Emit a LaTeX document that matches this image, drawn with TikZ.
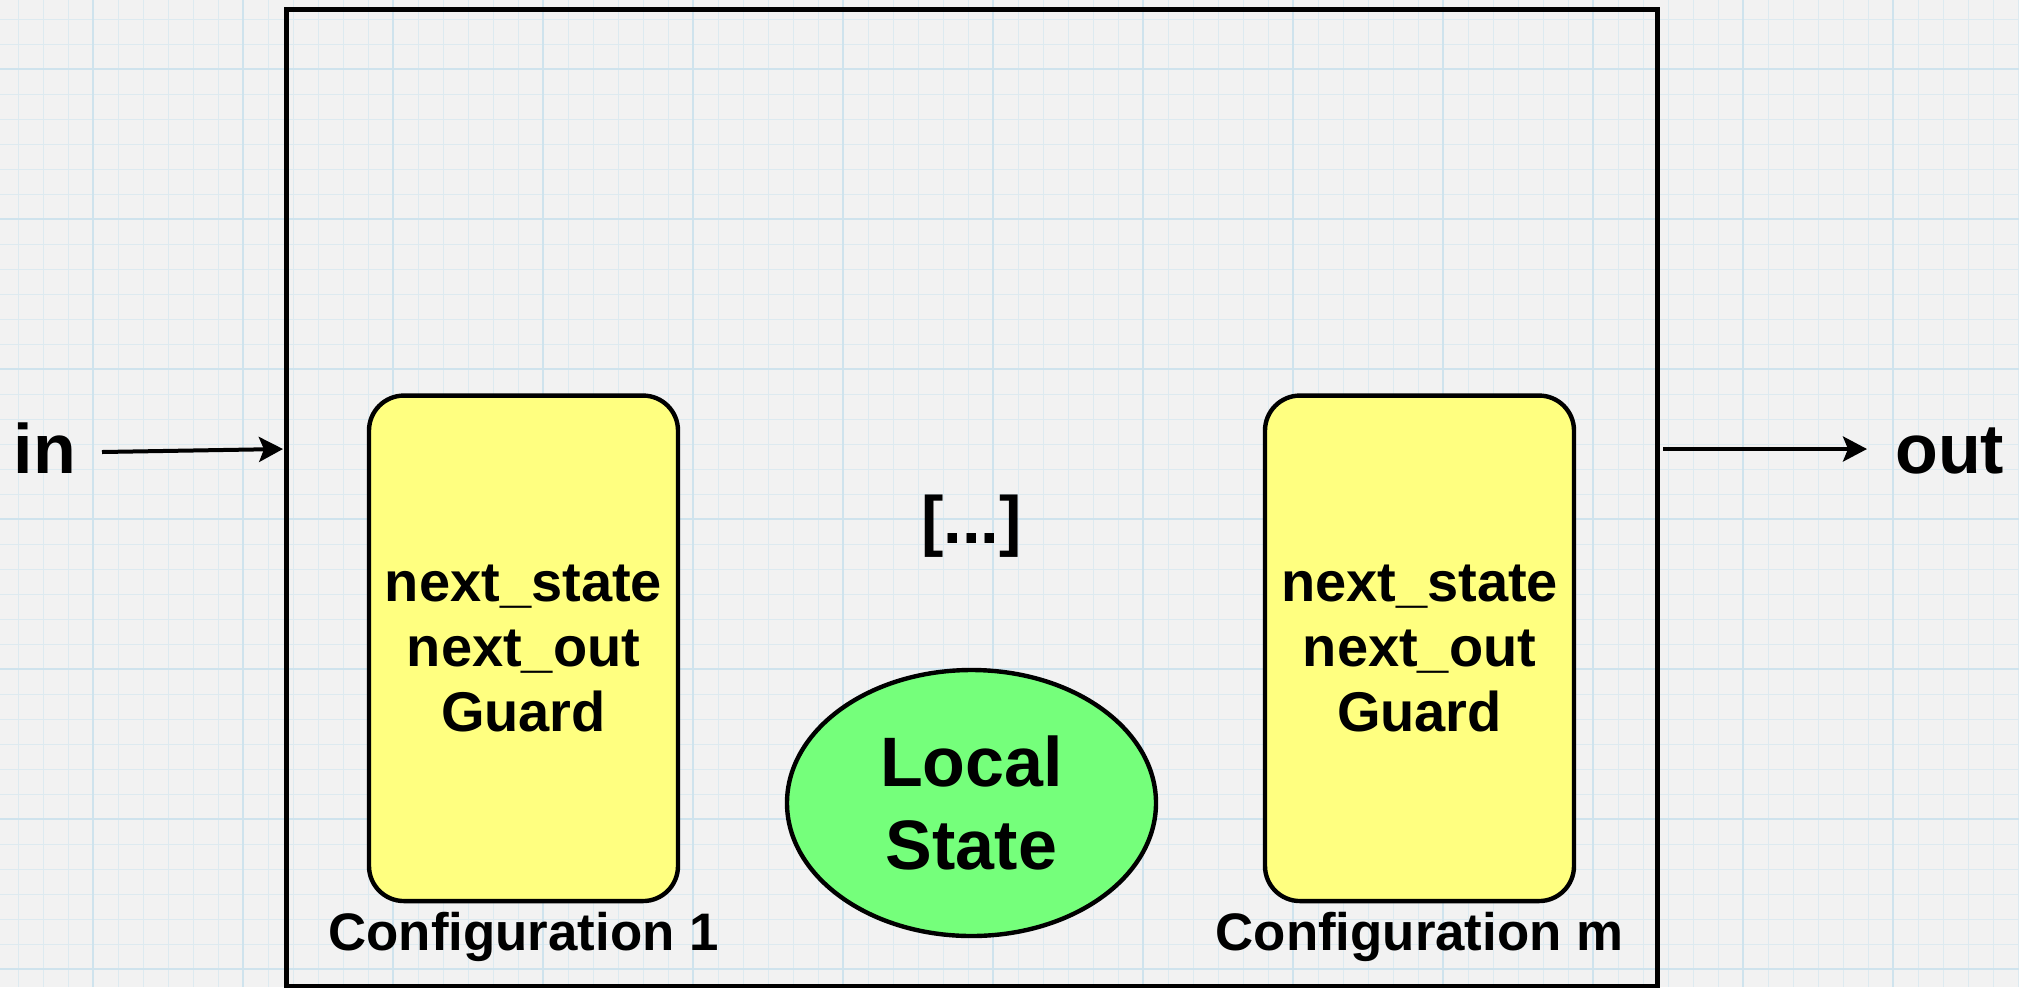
\documentclass[tikz,border=0pt]{standalone}
\usepackage{fontspec}
\setmainfont{Liberation Sans}
\usetikzlibrary{arrows.meta,shapes.geometric}
\definecolor{paper}{RGB}{242,242,242}
\definecolor{gridminor}{RGB}{221,234,240}
\definecolor{gridmajor}{RGB}{207,227,237}
\definecolor{cfgfill}{RGB}{255,255,128}
\definecolor{statefill}{RGB}{117,255,123}
\begin{document}
\begin{tikzpicture}[x=0.5pt,y=-0.5pt,
  frame/.style={draw=black,line width=2.5pt,minimum width=685.75pt,minimum height=488.75pt,inner sep=0pt},
  cfgbox/.style={draw=black,line width=2.2pt,fill=cfgfill,rounded corners=17.5pt,
    minimum width=154.5pt,minimum height=252.75pt,inner sep=0pt,align=center,
    font=\fontsize{28pt}{32.5pt}\selectfont\bfseries},
  statebox/.style={ellipse,draw=black,line width=2.2pt,fill=statefill,
    minimum width=184.5pt,minimum height=133pt,inner sep=0pt,align=center,
    font=\fontsize{35pt}{41.5pt}\selectfont\bfseries},
  caption/.style={anchor=base,inner sep=0pt,font=\fontsize{26.4pt}{30pt}\selectfont\bfseries},
  port/.style={anchor=base west,inner sep=0pt,font=\fontsize{35pt}{40pt}\selectfont\bfseries},
  arr/.style={line width=2pt,-{Stealth[length=12pt,width=12.5pt,inset=2.5pt]}},
]
\useasboundingbox (0,0) rectangle (2019,987);
% graph-paper background
\fill[paper] (0,0) rectangle (2019,987);
\foreach \k in {0,...,80}
  \draw[gridminor,line width=0.65pt] ({18.3+25*\k},0) -- ({18.3+25*\k},987);
\foreach \k in {0,...,39}
  \draw[gridminor,line width=0.65pt] (0,{19.3+25*\k}) -- (2019,{19.3+25*\k});
\foreach \k in {3,9,...,75}
  \draw[gridmajor,line width=0.85pt] ({18.3+25*\k},0) -- ({18.3+25*\k},987);
\foreach \k in {2,8,...,38}
  \draw[gridmajor,line width=0.85pt] (0,{19.3+25*\k}) -- (2019,{19.3+25*\k});

% enclosing component
\node[frame] (box) at (971.75,497.75) {};

% configurations
\node[cfgbox] (cfg1) at (523.5,648.3) {next\_state\\next\_out\\Guard};
\node[cfgbox] (cfgm) at (1419.5,648.3) {next\_state\\next\_out\\Guard};
\node[caption] (cap1) at (523.5,950) {Configuration 1};
\node[caption] (capm) at (1419.5,950) {Configuration m};

\node[anchor=base,inner sep=0pt,font=\fontsize{33.5pt}{36pt}\selectfont\bfseries] (dots) at (971.5,543) {[...]};

% local state
\node[statebox] (state) at (971.5,803) {Local\\State};

% ports
\node[port] (inlbl) at (13.5,473) {in};
\node[port] (outlbl) at (1895,473) {out};
\coordinate (inStart) at (102,452);
\coordinate (inEnd) at (283,449);
\coordinate (outStart) at (1663,449);
\coordinate (outEnd) at (1867,449);
\draw[arr] (inStart) -- (inEnd);
\draw[arr] (outStart) -- (outEnd);
\end{tikzpicture}
\end{document}
